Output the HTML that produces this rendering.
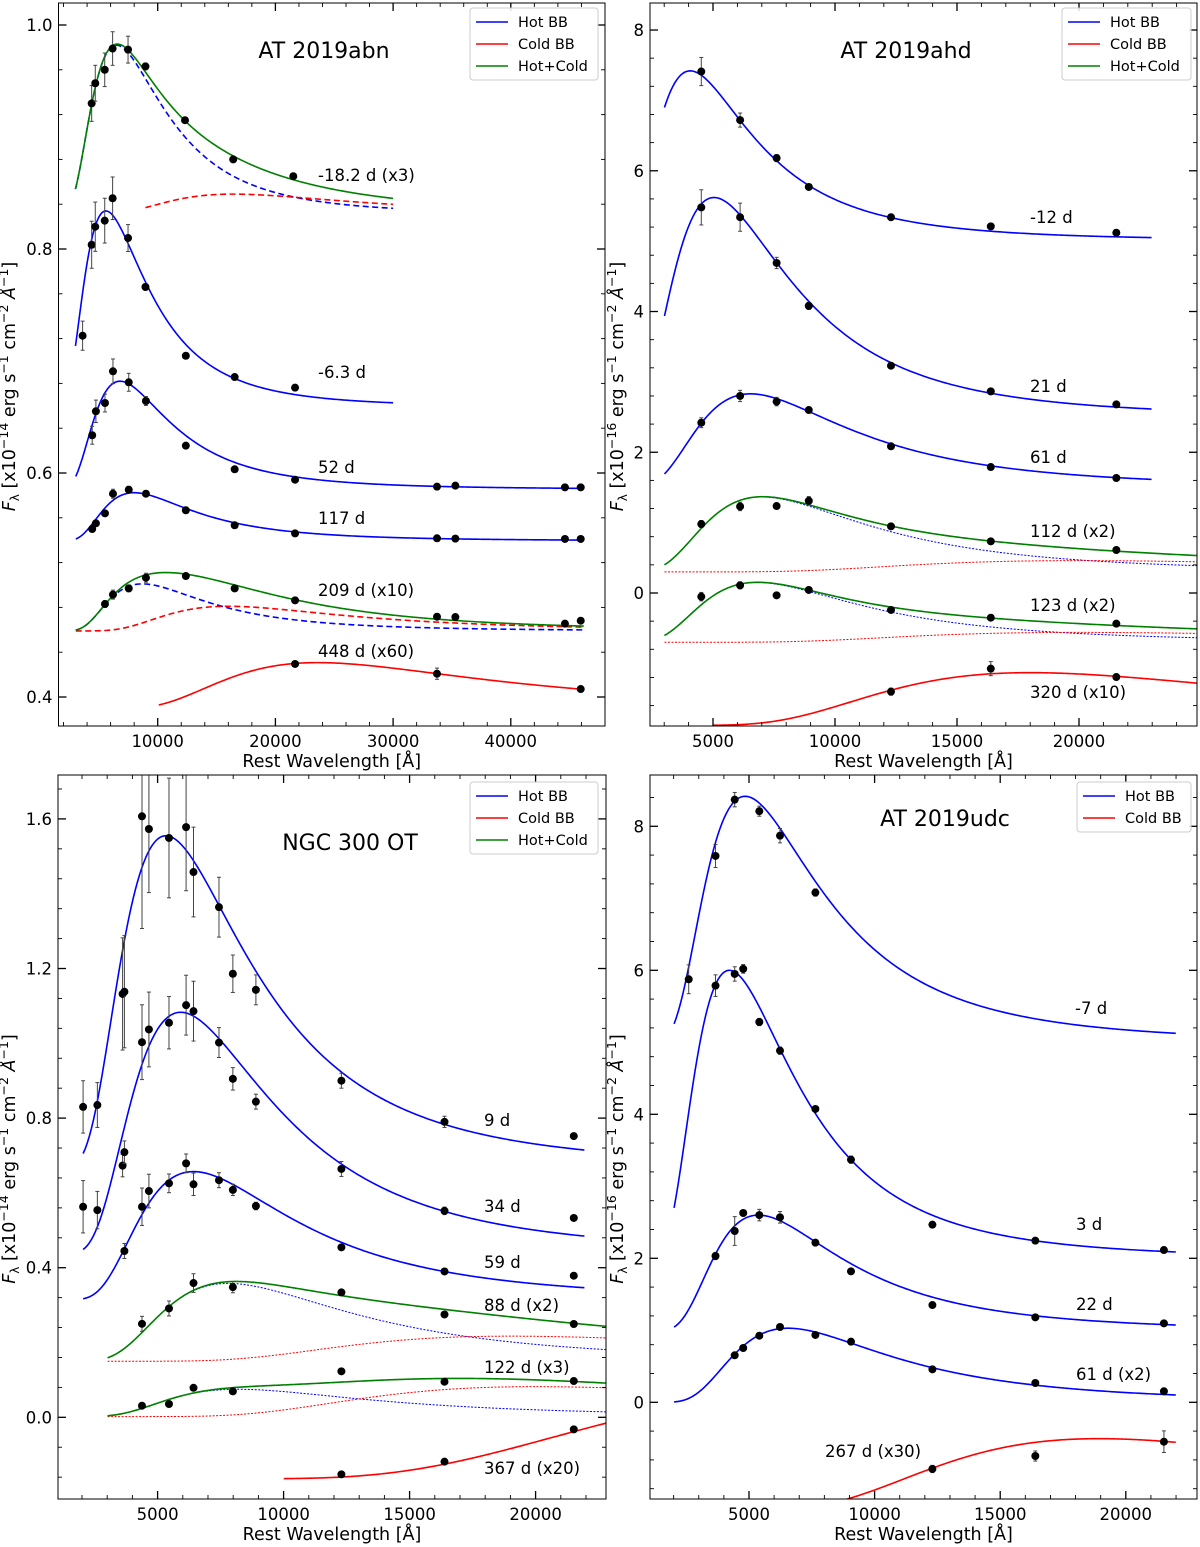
<!DOCTYPE html>
<html><head><meta charset="utf-8"><style>
html,body{margin:0;padding:0;background:#fff;}
svg{display:block;font-family:"DejaVu Sans","Liberation Sans",sans-serif;}
</style></head><body>
<svg id="fig" width="1200" height="1547" viewBox="0 0 1200 1547"></svg>
<script>
// ===== Panel 1: AT 2019abn (data) =====
const abn_m18_wl=[4390,4695,5500,6170,7480,8960,12320,16415,21520];
const abn_m18_f=[0.930,0.948,0.960,0.979,0.978,0.963,0.915,0.880,0.865];
const abn_m18_e=[0.016,0.016,0.015,0.015,0.012,0.003,0.002,0.002,0.002];
const abn_m6_wl=[3620,4390,4695,5500,6170,7480,8960,12390,16540,21670];
const abn_m6_f=[0.7226,0.8038,0.8199,0.8253,0.8453,0.8098,0.7661,0.7047,0.6857,0.6762];
const abn_m6_e=[0.013,0.021,0.022,0.020,0.019,0.012,0.003,0.002,0.002,0.002];
const abn_d52_wl=[4435,4750,5520,6200,7540,9000,12390,16540,21670,33730,35290,44600,45940];
const abn_d52_f=[0.6337,0.6551,0.6625,0.6908,0.681,0.6643,0.6244,0.6033,0.594,0.5878,0.5887,0.5872,0.5872];
const abn_d52_e=[0.008,0.010,0.008,0.011,0.008,0.004,0,0,0,0,0,0,0];
const abn_d117_wl=[4435,4750,5520,6200,7540,9000,12390,16540,21670,33730,35290,44600,45940];
const abn_d117_f=[0.5500,0.5551,0.564,0.5815,0.5851,0.5815,0.5667,0.5533,0.5461,0.5417,0.5414,0.5411,0.5411];
const abn_d117_e=[0.002,0.002,0.002,0.004,0.003,0,0,0,0,0,0,0,0];
const abn_d209_wl=[5520,6200,7540,9000,12390,16540,21670,33730,35290,44600,45940];
const abn_d209_f=[0.483,0.4914,0.497,0.5065,0.508,0.497,0.4863,0.4717,0.4714,0.4655,0.4681];
const abn_d209_e=[0.003,0.004,0.003,0.004,0,0,0,0,0,0,0];
const abn_d448_wl=[21670,33730,45940];
const abn_d448_f=[0.4295,0.4208,0.4071];
const abn_d448_e=[0,0.005,0.002];
// model curves: peak wavelength / amplitude / offset
const abn_hotPeak=[6500,5600,6800,8000,8700,0];
const abn_hotAmp=[0.151,0.175,0.0966,0.043,0.042,0];
const abn_coldPeak=[16400,0,0,0,16000,23600];
const abn_coldAmp=[0.018,0,0,0,0.022,0.0416];
const abn_offset=[0.831,0.659,0.5854,0.5394,0.459,0.3891];

// ===== Panel 2: AT 2019ahd =====
const ahd_m12_wl=[4520,6111,7607,8926,12295,16385,21530];
const ahd_m12_f=[7.41,6.72,6.18,5.77,5.34,5.21,5.12];
const ahd_m12_e=[0.2,0.1,0.05,0.03,0.02,0.02,0.02];
const ahd_d21_wl=[4520,6111,7607,8926,12295,16385,21530];
const ahd_d21_f=[5.48,5.34,4.69,4.08,3.23,2.865,2.68];
const ahd_d21_e=[0.25,0.2,0.08,0.05,0.02,0.02,0.02];
const ahd_d61_wl=[4520,6111,7607,8926,12295,16385,21530];
const ahd_d61_f=[2.42,2.80,2.72,2.60,2.085,1.79,1.634];
const ahd_d61_e=[0.07,0.08,0.06,0.03,0.02,0.02,0.02];
const ahd_d112_wl=[4520,6111,7607,8926,12295,16385,21530];
const ahd_d112_f=[0.98,1.23,1.236,1.31,0.947,0.734,0.611];
const ahd_d112_e=[0.05,0.06,0.04,0.06,0.04,0.02,0.02];
const ahd_d123_wl=[4520,6111,7607,8926,12295,16385,21530];
const ahd_d123_f=[-0.052,0.109,-0.033,0.043,-0.241,-0.351,-0.436];
const ahd_d123_e=[0.06,0.05,0.02,0.03,0.04,0.02,0.02];
const ahd_d320_wl=[12295,16385,21530];
const ahd_d320_f=[-1.402,-1.075,-1.194];
const ahd_d320_e=[0.05,0.1,0.03];
const ahd_hotPeak=[4066,5040,6537,7000,6800,0];
const ahd_hotAmp=[2.412,3.12,1.329,1.065,0.85,0];
const ahd_coldPeak=[0,0,0,20000,20000,18000];
const ahd_coldAmp=[0,0,0,0.16,0.14,0.748];
const ahd_offset=[5.008,2.50,1.501,0.30,-0.70,-1.88];

// ===== Panel 3: NGC 300 OT =====
const ngc_d9_wl=[2044,2610,3611,3683,4381,4655,5452,6131,6425,7436,7987,8901,12294,16385,21516];
const ngc_d9_f=[0.83,0.835,1.132,1.138,1.607,1.573,1.549,1.578,1.458,1.364,1.186,1.143,0.90,0.79,0.752];
const ngc_d9_e=[0.07,0.06,0.15,0.15,0.30,0.17,0.16,0.17,0.12,0.08,0.05,0.04,0.02,0.015,0.005];
const ngc_d34_wl=[2044,2610,3611,3683,4381,4655,5452,6131,6425,7436,7987,8901,12294,16385,21516];
const ngc_d34_f=[0.563,0.554,0.673,0.709,1.003,1.037,1.055,1.102,1.086,1.002,0.905,0.844,0.664,0.552,0.533];
const ngc_d34_e=[0.07,0.05,0.03,0.03,0.10,0.10,0.07,0.08,0.08,0.04,0.03,0.02,0.02,0.01,0.005];
const ngc_d59_wl=[3683,4381,4655,5452,6131,6425,7436,7987,8901,12294,16385,21516];
const ngc_d59_f=[0.4447,0.563,0.605,0.6256,0.679,0.623,0.634,0.608,0.565,0.4545,0.390,0.3786];
const ngc_d59_e=[0.02,0.05,0.045,0.025,0.025,0.03,0.02,0.015,0.01,0.005,0.005,0.005];
const ngc_d88_wl=[4381,5452,6425,7987,12294,16385,21516];
const ngc_d88_f=[0.250,0.291,0.359,0.348,0.334,0.275,0.2495];
const ngc_d88_e=[0.02,0.02,0.025,0.015,0.005,0.005,0.005];
const ngc_d122_wl=[4381,5452,6425,7987,12294,16385,21516];
const ngc_d122_f=[0.031,0.0356,0.079,0.0695,0.123,0.0952,0.097];
const ngc_d122_e=[0.005,0.005,0.005,0.005,0.005,0.005,0.005];
const ngc_d367_wl=[12294,16385,21516];
const ngc_d367_f=[-0.1525,-0.1186,-0.0322];
const ngc_d367_e=[0.005,0.005,0.005];
const ngc_hotPeak=[5333,5917,6425,7800,8200,0];
const ngc_hotAmp=[0.886,0.645,0.3425,0.208,0.073,0];
const ngc_coldPeak=[0,0,0,19000,20000,35000];
const ngc_coldAmp=[0,0,0,0.067,0.08,0.2506];
const ngc_offset=[0.669,0.438,0.3145,0.150,0.002,-0.1645];

// ===== Panel 4: AT 2019udc =====
const udc_m7_wl=[2600,3667,4431,5410,6234,7643];
const udc_m7_f=[5.875,7.588,8.37,8.21,7.87,7.08];
const udc_m7_e=[0.2,0.16,0.1,0.07,0.1,0.05];
const udc_d3_wl=[3667,4431,4770,5410,6234,7643,9060,12301,16398,21517];
const udc_d3_f=[5.787,5.949,6.02,5.282,4.884,4.074,3.37,2.467,2.245,2.115];
const udc_d3_e=[0.15,0.1,0.06,0.05,0.05,0.03,0.05,0.02,0.02,0.02];
const udc_d22_wl=[3667,4431,4770,5410,6234,7643,9060,12301,16398,21517];
const udc_d22_f=[2.032,2.379,2.629,2.60,2.569,2.217,1.819,1.351,1.18,1.097];
const udc_d22_e=[0.05,0.2,0.04,0.08,0.08,0.03,0.02,0.02,0.02,0.02];
const udc_d61_wl=[4431,4770,5410,6234,7643,9060,12301,16398,21517];
const udc_d61_f=[0.653,0.754,0.925,1.046,0.935,0.842,0.458,0.268,0.153];
const udc_d61_e=[0.02,0.02,0.02,0.02,0.02,0.02,0.02,0.02,0.02];
const udc_d267_wl=[12301,16398,21517];
const udc_d267_f=[-0.926,-0.746,-0.547];
const udc_d267_e=[0.05,0.07,0.15];
const udc_hotPeak=[4845,4220,5378,6557,0];
const udc_hotAmp=[3.419,4.005,1.611,1.029,0];
const udc_coldPeak=[0,0,0,0,18930];
const udc_coldAmp=[0,0,0,0,1.0];
const udc_offset=[4.998,1.995,0.989,0,-1.505];

// ===== rendering =====
const NS='http://www.w3.org/2000/svg';
const svg=document.getElementById('fig');
function mk(tag,attrs,parent){const e=document.createElementNS(NS,tag);for(const k in attrs)e.setAttribute(k,attrs[k]);(parent||svg).appendChild(e);return e;}
function bb(l,lp){if(!lp)return 0;const a=4.965;return Math.pow(lp/l,5)*(Math.exp(a)-1)/(Math.exp(a*lp/l)-1);}

function makePanel(P){
  const g=mk('g',{});
  
  
  P.sx=l=>P.x0+(l-P.lmin)/(P.lmax-P.lmin)*(P.x1-P.x0);
  P.sy=v=>P.y1-(v-P.vmin)/(P.vmax-P.vmin)*(P.y1-P.y0);
  const cid='clip-'+P.name;
  const cp=mk('clipPath',{id:cid},g);
  mk('rect',{x:P.x0,y:P.y0,width:P.x1-P.x0,height:P.y1-P.y0},cp);
  P.plot=mk('g',{'clip-path':'url(#'+cid+')'},g);
  
  
  P.g=g;
  const fr=mk('rect',{x:P.x0,y:P.y0,width:P.x1-P.x0,height:P.y1-P.y0,fill:'none',stroke:'#000','stroke-width':1},g);
  
  
  const xt=mk('g',{stroke:'#000'},g);
  
  
  for(let l=Math.ceil(P.lmin/P.xMinor)*P.xMinor;l<=P.lmax;l+=P.xMinor){
    const x=P.sx(l);const major=(Math.round(l)%P.xMajor===0);const len=major?8:4;
    mk('line',{x1:x,x2:x,y1:P.y1,y2:P.y1-len,'stroke-width':major?1.3:0.9},xt);
    mk('line',{x1:x,x2:x,y1:P.y0,y2:P.y0+len,'stroke-width':major?1.3:0.9},xt);
    if(major){const t=mk('text',{x:x,y:P.y1+21,'text-anchor':'middle','font-size':16.5,stroke:'none',fill:'#000'},g);t.textContent=String(Math.round(l));
      }
  }
  const yt=mk('g',{stroke:'#000'},g);
  
  
  const n0=Math.ceil((P.vmin-1e-9)/P.yMinor), n1=Math.floor((P.vmax+1e-9)/P.yMinor);
  const ratio=Math.round(P.yMajor/P.yMinor);
  for(let n=n0;n<=n1;n++){
    const v=n*P.yMinor;const y=P.sy(v);const major=(((n%ratio)+ratio)%ratio===0);const len=major?8:4;
    mk('line',{x1:P.x0,x2:P.x0+len,y1:y,y2:y,'stroke-width':major?1.3:0.9},yt);
    mk('line',{x1:P.x1,x2:P.x1-len,y1:y,y2:y,'stroke-width':major?1.3:0.9},yt);
    if(major){const t=mk('text',{x:P.x0-6,y:y+6,'text-anchor':'end','font-size':16.5,stroke:'none',fill:'#000'},g);t.textContent=v.toFixed(P.yDec);
      }
  }
  const xl=mk('text',{x:(P.x0+P.x1)/2,y:P.y1+41,'text-anchor':'middle','font-size':17.5},g);
  xl.textContent='Rest Wavelength [Å]';
  
  const cy=(P.y0+P.y1)/2+22;
  const yl=mk('text',{x:P.ylx,y:cy,'text-anchor':'middle','font-size':17.5,transform:'rotate(-90 '+P.ylx+' '+cy+')'},g);
  
  yl.innerHTML='<tspan font-style="italic">F</tspan><tspan font-size="12" dy="4">λ</tspan><tspan dy="-4"> [x10</tspan><tspan font-size="12.5" dy="-7">−'+P.exp+'</tspan><tspan dy="7"> erg s</tspan><tspan font-size="12.5" dy="-7">−1</tspan><tspan dy="7"> cm</tspan><tspan font-size="12.5" dy="-7">−2</tspan><tspan dy="7">   </tspan><tspan font-style="italic">Å</tspan><tspan font-size="12.5" dy="-7">−1</tspan><tspan dy="7">]</tspan>';
  const ti=mk('text',{x:P.titleX,y:P.titleY,'text-anchor':'middle','font-size':22},g);
  ti.textContent=P.title;
  
  return P;
}

function curvePath(P,fn,l0,l1){
  let d='';const N=240;
  for(let i=0;i<=N;i++){const l=l0+(l1-l0)*i/N;d+=(i?'L':'M')+P.sx(l).toFixed(2)+' '+P.sy(fn(l)).toFixed(2);}
  return d;
}
function drawModel(P,name,hp,ha,cp,ca,off,l0,l1,c0,style){
  const hot=l=>off+ha*bb(l,hp), cold=l=>off+ca*bb(l,cp), sum=l=>off+ha*bb(l,hp)+ca*bb(l,cp);
  if(style==='blue'||style==='red'){
    const p=mk('path',{d:curvePath(P,style==='blue'?hot:cold,l0,l1),fill:'none',stroke:style==='blue'?'#0000ff':'#ff0000','stroke-width':1.6},P.plot);
    
    return;
  }
  const dash=style==='dash'?'6 3.5':'2 1.5', w=style==='dash'?1.6:1.0;
  const ph=mk('path',{d:curvePath(P,hot,l0,l1),fill:'none',stroke:'#0000ff','stroke-width':w,'stroke-dasharray':dash},P.plot);
  
  const pc=mk('path',{d:curvePath(P,cold,c0,l1),fill:'none',stroke:'#ff0000','stroke-width':w,'stroke-dasharray':dash},P.plot);
  
  const ps=mk('path',{d:curvePath(P,sum,l0,l1),fill:'none',stroke:'#008000','stroke-width':1.6},P.plot);
  
}
function drawPoints(P,name,wl,f,e){
  const g=mk('g',{},P.plot);
  
  for(let i=0;i<wl.length;i++){
    const x=P.sx(wl[i]),y=P.sy(f[i]);
    if(e[i]>0){const y0=P.sy(f[i]-e[i]),y1=P.sy(f[i]+e[i]);
      mk('line',{x1:x,x2:x,y1:y0,y2:y1,stroke:'#444','stroke-width':1},g);
      mk('line',{x1:x-2,x2:x+2,y1:y0,y2:y0,stroke:'#444','stroke-width':1},g);
      mk('line',{x1:x-2,x2:x+2,y1:y1,y2:y1,stroke:'#444','stroke-width':1},g);}
    const c=mk('circle',{cx:x,cy:y,r:4,fill:'#000'},g);
    
  }
}
function label(P,txt,x,y){const t=mk('text',{x:x,y:y,'font-size':16.5},P.g);t.textContent=txt;
  }
function legend(P,x,y,w,entries){
  const g=mk('g',{},P.g);
  
  mk('rect',{x:x,y:y,width:w,height:entries.length*22+6,rx:3,fill:'#fff','fill-opacity':0.85,stroke:'#ccc','stroke-width':1},g);
  entries.forEach((en,i)=>{const yy=y+14+i*22;
    const ln=mk('line',{x1:x+6,x2:x+38,y1:yy,y2:yy,stroke:en[1],'stroke-width':1.6},g);
    
    const t=mk('text',{x:x+48,y:yy+5,'font-size':14.5},g);t.textContent=en[0];
    });
}
const L3=[['Hot BB','#0000ff'],['Cold BB','#ff0000'],['Hot+Cold','#008000']];

// Panel 1
const P1=makePanel({name:'panel-at2019abn',x0:58.5,x1:605,y0:3,y1:726,lmin:1572,lmax:48003,vmin:0.37411,vmax:1.01964,
  xMajor:10000,xMinor:2000,yMajor:0.2,yMinor:0.04,yDec:1,ylx:15,exp:14,title:'AT 2019abn',titleX:324,titleY:58});
drawModel(P1,'abn-m18',abn_hotPeak[0],abn_hotAmp[0],abn_coldPeak[0],abn_coldAmp[0],abn_offset[0],3015,30000,8960,'dash');
drawModel(P1,'abn-m6',abn_hotPeak[1],abn_hotAmp[1],abn_coldPeak[1],abn_coldAmp[1],abn_offset[1],3015,30000,0,'blue');
drawModel(P1,'abn-52d',abn_hotPeak[2],abn_hotAmp[2],abn_coldPeak[2],abn_coldAmp[2],abn_offset[2],3040,46200,0,'blue');
drawModel(P1,'abn-117d',abn_hotPeak[3],abn_hotAmp[3],abn_coldPeak[3],abn_coldAmp[3],abn_offset[3],3040,46200,0,'blue');
drawModel(P1,'abn-209d',abn_hotPeak[4],abn_hotAmp[4],abn_coldPeak[4],abn_coldAmp[4],abn_offset[4],3040,46200,3040,'dash');
drawModel(P1,'abn-448d',abn_hotPeak[5],abn_hotAmp[5],abn_coldPeak[5],abn_coldAmp[5],abn_offset[5],10090,46200,0,'red');
drawPoints(P1,'abn-m18',abn_m18_wl,abn_m18_f,abn_m18_e);
drawPoints(P1,'abn-m6',abn_m6_wl,abn_m6_f,abn_m6_e);
drawPoints(P1,'abn-52d',abn_d52_wl,abn_d52_f,abn_d52_e);
drawPoints(P1,'abn-117d',abn_d117_wl,abn_d117_f,abn_d117_e);
drawPoints(P1,'abn-209d',abn_d209_wl,abn_d209_f,abn_d209_e);
drawPoints(P1,'abn-448d',abn_d448_wl,abn_d448_f,abn_d448_e);
label(P1,'-18.2 d (x3)',318,181);label(P1,'-6.3 d',318,378);label(P1,'52 d',318,473);
label(P1,'117 d',318,524);label(P1,'209 d (x10)',318,596);label(P1,'448 d (x60)',318,657);
legend(P1,470,8,128,L3);

// Panel 2
const P2=makePanel({name:'panel-at2019ahd',x0:650,x1:1197,y0:3,y1:726,lmin:2418,lmax:24836,vmin:-1.890,vmax:8.384,
  xMajor:5000,xMinor:1000,yMajor:2,yMinor:0.4,yDec:0,ylx:623,exp:16,title:'AT 2019ahd',titleX:906,titleY:58});
const ahdNames=['ahd-m12','ahd-21d','ahd-61d','ahd-112d','ahd-123d','ahd-320d'];
const ahdStyle=['blue','blue','blue','dot','dot','red'];
const ahdEnd=[22975,22975,22975,24900,24900,24900];
for(let i=0;i<6;i++) drawModel(P2,ahdNames[i],ahd_hotPeak[i],ahd_hotAmp[i],ahd_coldPeak[i],ahd_coldAmp[i],ahd_offset[i],i===5?5000:3012,ahdEnd[i],3012,ahdStyle[i]);
drawPoints(P2,'ahd-m12',ahd_m12_wl,ahd_m12_f,ahd_m12_e);
drawPoints(P2,'ahd-21d',ahd_d21_wl,ahd_d21_f,ahd_d21_e);
drawPoints(P2,'ahd-61d',ahd_d61_wl,ahd_d61_f,ahd_d61_e);
drawPoints(P2,'ahd-112d',ahd_d112_wl,ahd_d112_f,ahd_d112_e);
drawPoints(P2,'ahd-123d',ahd_d123_wl,ahd_d123_f,ahd_d123_e);
drawPoints(P2,'ahd-320d',ahd_d320_wl,ahd_d320_f,ahd_d320_e);
label(P2,'-12 d',1030,223);label(P2,'21 d',1030,392);label(P2,'61 d',1030,463);
label(P2,'112 d (x2)',1030,537);label(P2,'123 d (x2)',1030,611);label(P2,'320 d (x10)',1030,698);
legend(P2,1062,8,129,L3);

// Panel 3
const P3=makePanel({name:'panel-ngc300ot',x0:58,x1:606,y0:775,y1:1499,lmin:1048,lmax:22794,vmin:-0.2184,vmax:1.7174,
  xMajor:5000,xMinor:1000,yMajor:0.4,yMinor:0.08,yDec:1,ylx:15,exp:14,title:'NGC 300 OT',titleX:350,titleY:850});
const ngcNames=['ngc-9d','ngc-34d','ngc-59d','ngc-88d','ngc-122d','ngc-367d'];
const ngcStyle=['blue','blue','blue','dot','dot','red'];
const ngcStart=[2044,2044,2044,3016,3016,10004];
const ngcEnd=[21937,21937,21937,22900,22900,23500];
for(let i=0;i<6;i++) drawModel(P3,ngcNames[i],ngc_hotPeak[i],ngc_hotAmp[i],ngc_coldPeak[i],ngc_coldAmp[i],ngc_offset[i],ngcStart[i],ngcEnd[i],3016,ngcStyle[i]);
drawPoints(P3,'ngc-9d',ngc_d9_wl,ngc_d9_f,ngc_d9_e);
drawPoints(P3,'ngc-34d',ngc_d34_wl,ngc_d34_f,ngc_d34_e);
drawPoints(P3,'ngc-59d',ngc_d59_wl,ngc_d59_f,ngc_d59_e);
drawPoints(P3,'ngc-88d',ngc_d88_wl,ngc_d88_f,ngc_d88_e);
drawPoints(P3,'ngc-122d',ngc_d122_wl,ngc_d122_f,ngc_d122_e);
drawPoints(P3,'ngc-367d',ngc_d367_wl,ngc_d367_f,ngc_d367_e);
label(P3,'9 d',484,1126);label(P3,'34 d',484,1212);label(P3,'59 d',484,1268);
label(P3,'88 d (x2)',484,1311);label(P3,'122 d (x3)',484,1373);label(P3,'367 d (x20)',484,1474);
legend(P3,470,782,128,L3);

// Panel 4
const P4=makePanel({name:'panel-at2019udc',x0:650,x1:1197,y0:775,y1:1499,lmin:1059,lmax:22834,vmin:-1.343,vmax:8.7125,
  xMajor:5000,xMinor:1000,yMajor:2,yMinor:0.4,yDec:0,ylx:623,exp:16,title:'AT 2019udc',titleX:945,titleY:826});
const udcNames=['udc-m7','udc-3d','udc-22d','udc-61d','udc-267d'];
const udcStyle=['blue','blue','blue','blue','red'];
for(let i=0;i<5;i++) drawModel(P4,udcNames[i],udc_hotPeak[i],udc_hotAmp[i],udc_coldPeak[i],udc_coldAmp[i],udc_offset[i],i===4?8000:2018,21990,0,udcStyle[i]);
drawPoints(P4,'udc-m7',udc_m7_wl,udc_m7_f,udc_m7_e);
drawPoints(P4,'udc-3d',udc_d3_wl,udc_d3_f,udc_d3_e);
drawPoints(P4,'udc-22d',udc_d22_wl,udc_d22_f,udc_d22_e);
drawPoints(P4,'udc-61d',udc_d61_wl,udc_d61_f,udc_d61_e);
drawPoints(P4,'udc-267d',udc_d267_wl,udc_d267_f,udc_d267_e);
label(P4,'-7 d',1075,1014);label(P4,'3 d',1076,1230);label(P4,'22 d',1076,1310);
label(P4,'61 d (x2)',1076,1380);label(P4,'267 d (x30)',825,1457);
legend(P4,1077,782,114,[['Hot BB','#0000ff'],['Cold BB','#ff0000']]);
</script>
</body></html>
